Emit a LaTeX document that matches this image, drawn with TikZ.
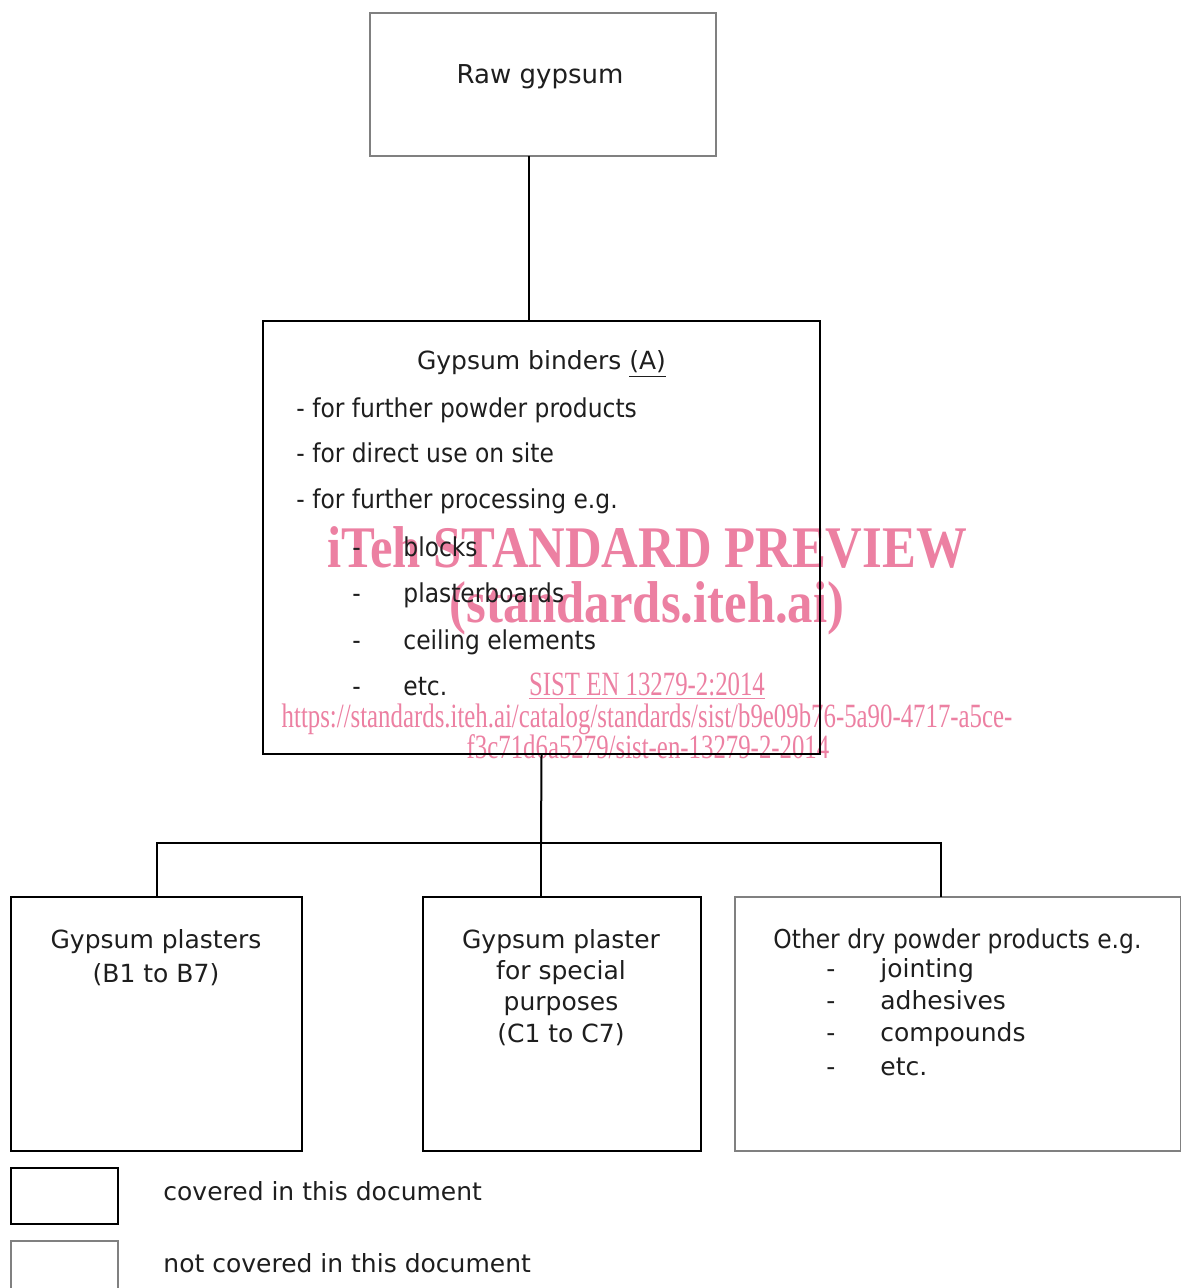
\documentclass[tikz,border=0pt]{standalone}
\usepackage{fontspec}
\setmainfont{DejaVu Sans}
\newfontfamily\condfont[FakeStretch=0.9]{DejaVu Sans}
\newfontfamily\wmfont{Liberation Serif}
\usetikzlibrary{positioning}

\definecolor{wmpink}{RGB}{236,128,162}
\definecolor{boxgray}{RGB}{128,128,128}
\definecolor{ink}{RGB}{30,30,30}

\tikzset{
  covered/.style={draw=black, line width=1pt, inner sep=0pt},
  notcovered/.style={draw=boxgray, line width=1pt, inner sep=0pt},
  txt/.style={inner sep=0pt, text=ink, font=\fontsize{12.5}{15}\selectfont},
  cond/.style={inner sep=0pt, text=ink, font=\condfont\fontsize{13}{15}\selectfont},
  wmark/.style={inner sep=0pt, text=wmpink, font=\wmfont\bfseries\fontsize{29.5}{30}\selectfont},
  wmsmall/.style={inner sep=0pt, text=wmpink, font=\wmfont\fontsize{17}{18}\selectfont},
  link/.style={draw=black, line width=1pt}
}

\begin{document}
\begin{tikzpicture}[x=0.5pt,y=-0.5pt]
  \useasboundingbox (0,0) rectangle (1181,1288);

  % watermark
  \node[wmark, anchor=base] (wm1) at (647,567) {\scalebox{0.86}[1]{iTeh STANDARD PREVIEW}};
  \node[wmark, anchor=base] (wm2) at (647,622) {\scalebox{0.86}[1]{(standards.iteh.ai)}};
  \node[wmsmall, anchor=base] (wm3) at (647,695) {\scalebox{0.73}[1]{\underline{SIST EN 13279-2:2014}}};
  \node[wmsmall, anchor=base] (wm4) at (647,727) {\scalebox{0.73}[1]{https://standards.iteh.ai/catalog/standards/sist/b9e09b76-5a90-4717-a5ce-}};
  \node[wmsmall, anchor=base] (wm5) at (648,758) {\scalebox{0.73}[1]{f3c71d6a5279/sist-en-13279-2-2014}};

  % boxes
  \node[notcovered, minimum width=173pt, minimum height=71.5pt] (raw) at (543,84.5) {};
  \node[covered, minimum width=278.5pt, minimum height=216.5pt] (bind) at (541.5,537.5) {};
  \node[covered, minimum width=145.5pt, minimum height=127pt] (plast) at (156.5,1024) {};
  \node[covered, minimum width=139pt, minimum height=127pt] (spec) at (562,1024) {};
  \node[notcovered, minimum width=223pt, minimum height=127pt] (other) at (958,1024) {};
  \node[covered, minimum width=53.5pt, minimum height=28pt] (keycov) at (64.5,1196) {};
  \node[notcovered, minimum width=53.5pt, minimum height=25pt] (keynot) at (64.5,1266) {};

  % texts
  \node[txt, anchor=base, font=\fontsize{13}{15}\selectfont] (rawtxt) at (540,84) {Raw gypsum};
  \node[txt, anchor=base] (bindtitle) at (541.5,370) {Gypsum binders \underline{(A)}};
  \node[cond, anchor=base west] (use1) at (296,417) {- for further powder products};
  \node[cond, anchor=base west] (use2) at (296,462) {- for direct use on site};
  \node[cond, anchor=base west] (use3) at (296,508) {- for further processing e.g.};
  \node[cond, anchor=base west] (item1) at (352,556) {\makebox[25.5pt][l]{-}blocks};
  \node[cond, anchor=base west] (item2) at (352,602) {\makebox[25.5pt][l]{-}plasterboards};
  \node[cond, anchor=base west] (item3) at (352,649) {\makebox[25.5pt][l]{-}ceiling elements};
  \node[cond, anchor=base west] (item4) at (352,695) {\makebox[25.5pt][l]{-}etc.};

  \node[txt, anchor=base, align=center, font=\fontsize{12.5}{17}\selectfont] (plasttxt) at (156,982) {Gypsum plasters\\(B1 to B7)};
  \node[txt, anchor=base, align=center, font=\fontsize{12.5}{15.6}\selectfont] (spectxt) at (561,1042) {Gypsum plaster\\for special\\purposes\\(C1 to C7)};
  \node[cond, anchor=base west] (othertxt) at (773,948) {Other dry powder products e.g.};
  \node[txt, anchor=base west] (other1) at (826,977) {\makebox[27pt][l]{-}jointing};
  \node[txt, anchor=base west] (other2) at (826,1009) {\makebox[27pt][l]{-}adhesives};
  \node[txt, anchor=base west] (other3) at (826,1041) {\makebox[27pt][l]{-}compounds};
  \node[txt, anchor=base west] (other4) at (826,1075) {\makebox[27pt][l]{-}etc.};

  \node[txt, anchor=base west] (covtxt) at (163,1200) {covered in this document};
  \node[txt, anchor=base west] (nottxt) at (163,1272) {not covered in this document};

  % connectors
  \coordinate (rawfoot) at (529,156);
  \coordinate (fork) at (541,843);
  \coordinate (otherfoot) at (941,897);
  \draw[link] (rawfoot) -- (rawfoot |- bind.north);
  \draw[link] (bind.south) -- (fork);
  \draw[link] (plast.north) |- (fork) -| (otherfoot);
  \draw[link] (fork) -- (fork |- spec.north);
\end{tikzpicture}
\end{document}
